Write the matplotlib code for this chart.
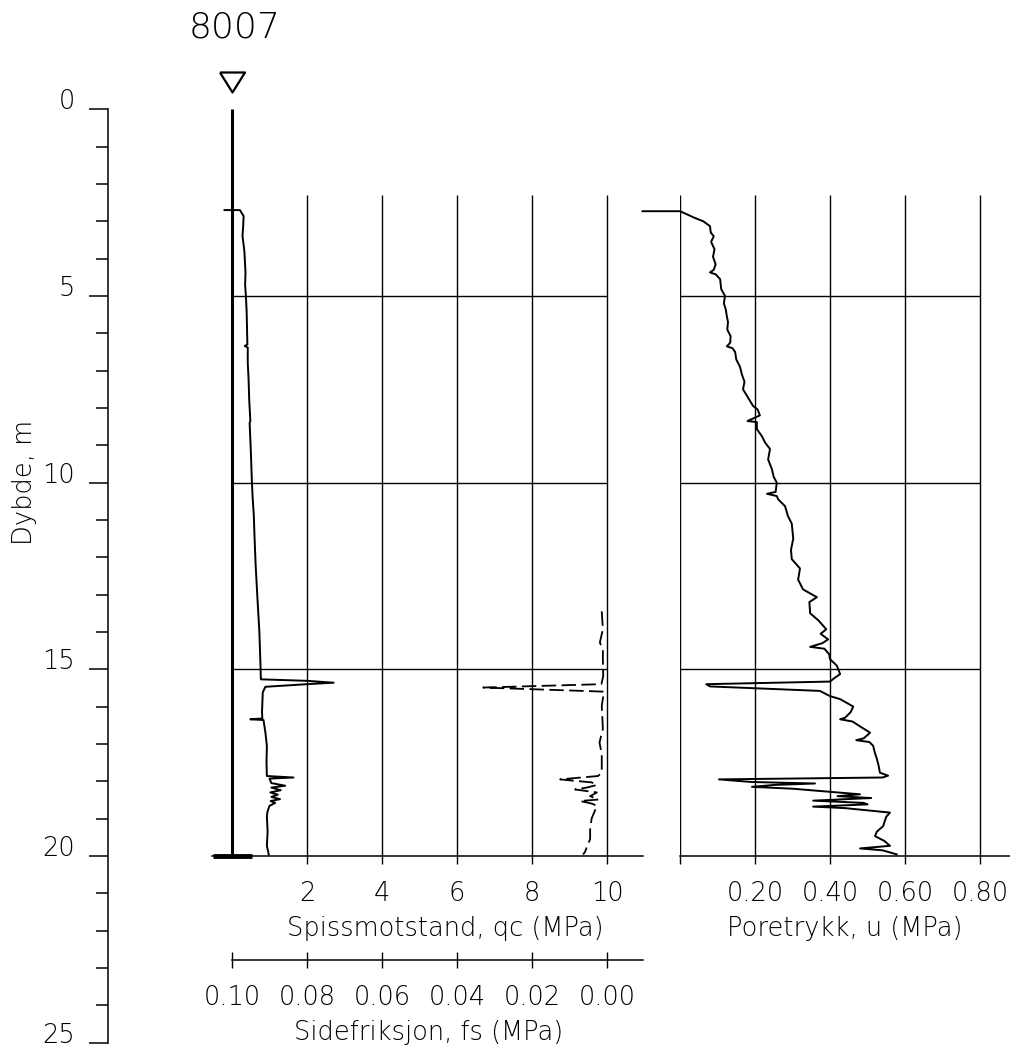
import matplotlib
matplotlib.use("Agg")
import matplotlib.pyplot as plt
from matplotlib.ticker import FixedLocator, MultipleLocator

plt.rcParams['font.family'] = ['DejaVu Sans']
plt.rcParams['font.size'] = 18.5
plt.rcParams['font.weight'] = 'light'
plt.rcParams['axes.labelweight'] = 'light'

W, H = 1010, 1049
DPI = 100

# depth scale: pixel row of 0 m and pixels per metre
Y0 = 109.3
PX_PER_M = 37.33

HOLE = "8007"
GRID_TOP = 2.3
BOTTOM = 20.0

# cone resistance qc (MPa) against depth (m)
qc_depth = [2.70, 2.70, 2.86, 3.10, 3.39, 3.80, 4.37, 4.70, 5.00, 5.40, 5.84,
            6.30, 6.34, 6.38, 6.80, 7.18, 7.80, 8.35, 8.40, 9.10, 9.96, 10.40,
            10.85, 11.43, 12.20, 13.13, 14.00, 14.91, 15.27, 15.31, 15.36,
            15.40, 15.47, 15.62, 15.90, 16.15, 16.32, 16.34, 16.36, 16.69,
            17.05, 17.50, 17.86, 17.90, 17.93, 18.05, 18.12, 18.17, 18.24,
            18.30, 18.36, 18.42, 18.48, 18.53, 18.58, 18.66, 18.80, 18.93,
            19.35, 19.73, 19.96]
qc = [-0.20, 0.21, 0.31, 0.30, 0.28, 0.33, 0.36, 0.35, 0.37, 0.39, 0.40,
      0.41, 0.34, 0.42, 0.42, 0.44, 0.46, 0.49, 0.47, 0.50, 0.53, 0.55,
      0.58, 0.60, 0.63, 0.68, 0.73, 0.76, 0.77, 2.00, 2.71,
      2.00, 0.89, 0.82, 0.81, 0.80, 0.81, 0.49, 0.84, 0.89,
      0.93, 0.92, 0.93, 1.64, 1.00, 1.05, 1.42, 1.05, 1.30,
      1.02, 1.22, 1.05, 1.28, 1.03, 1.15, 1.00, 0.95, 0.93,
      0.95, 0.93, 0.98]

# sleeve friction fs (MPa) against depth (m)
fs_depth = [13.45, 13.93, 14.28, 14.50, 14.73, 15.18, 15.40, 15.49, 15.60,
            15.98, 16.60, 16.96, 17.28, 17.77, 17.86, 17.95, 17.99, 18.03,
            18.10, 18.17, 18.22, 18.30, 18.40, 18.49, 18.53, 18.60, 18.66,
            19.00, 19.29, 19.55, 19.90, 19.96]
fs = [0.0014, 0.0011, 0.0019, 0.0011, 0.0011, 0.0010, 0.0015, 0.0330, 0.0008,
      0.0014, 0.0011, 0.0020, 0.0014, 0.0014, 0.0024, 0.0125, 0.0085, 0.0041,
      0.0027, 0.0054, 0.0085, 0.0027, 0.0045, 0.0023, 0.0072, 0.0040, 0.0027,
      0.0041, 0.0045, 0.0045, 0.0059, 0.0064]

# pore pressure u (MPa) against depth (m)
u_depth = [2.73, 2.73, 2.82, 2.89, 3.00, 3.13, 3.30, 3.40, 3.55, 3.75, 3.95,
           4.15, 4.30, 4.37, 4.42, 4.55, 4.82, 5.00, 5.20, 5.36, 5.55, 5.70,
           5.90, 6.08, 6.25, 6.35, 6.40, 6.50, 6.70, 6.90, 7.10, 7.30, 7.50,
           7.70, 7.95, 8.04, 8.20, 8.35, 8.38, 8.57, 8.75, 8.93, 9.10, 9.38,
           9.64, 9.85, 10.00, 10.25, 10.30, 10.36, 10.45, 10.63, 10.90, 11.10,
           11.50, 11.80, 12.05, 12.30, 12.60, 12.86, 13.07, 13.20, 13.50,
           13.70, 13.93, 14.05, 14.20, 14.30, 14.40, 14.45, 14.60, 14.73,
           14.90, 15.13, 15.25, 15.33, 15.40, 15.46, 15.58, 15.72, 15.80,
           16.00, 16.15, 16.30, 16.34, 16.40, 16.53, 16.70, 16.85, 16.90,
           16.95, 17.05, 17.25, 17.40, 17.60, 17.77, 17.85, 17.90, 17.95,
           18.02, 18.06, 18.10, 18.15, 18.20, 18.30, 18.35, 18.40, 18.45,
           18.52, 18.58, 18.62, 18.68, 18.72, 18.84, 18.95, 19.10, 19.20,
           19.35, 19.47, 19.60, 19.73, 19.80, 19.85, 19.96]
u = [-0.100, 0.000, 0.020, 0.035, 0.062, 0.080, 0.082, 0.090, 0.083, 0.092, 0.088,
     0.095, 0.090, 0.080, 0.095, 0.107, 0.110, 0.120, 0.117, 0.122, 0.125, 0.128,
     0.126, 0.135, 0.134, 0.125, 0.140, 0.147, 0.150, 0.160, 0.165, 0.172, 0.168,
     0.180, 0.195, 0.207, 0.213, 0.180, 0.205, 0.205, 0.218, 0.227, 0.240, 0.235,
     0.245, 0.250, 0.258, 0.255, 0.232, 0.258, 0.262, 0.280, 0.288, 0.298,
     0.302, 0.296, 0.298, 0.320, 0.315, 0.328, 0.365, 0.345, 0.347,
     0.370, 0.390, 0.375, 0.395, 0.380, 0.347, 0.385, 0.398, 0.400,
     0.418, 0.427, 0.410, 0.400, 0.070, 0.080, 0.373, 0.400, 0.427,
     0.462, 0.455, 0.440, 0.427, 0.460, 0.480, 0.507, 0.490, 0.470,
     0.505, 0.515, 0.520, 0.525, 0.530, 0.533, 0.555, 0.540, 0.104,
     0.190, 0.360, 0.250, 0.192, 0.300, 0.420, 0.480, 0.420, 0.510,
     0.355, 0.490, 0.500, 0.355, 0.440, 0.560, 0.550, 0.545, 0.542,
     0.525, 0.520, 0.545, 0.560, 0.480, 0.540, 0.578]

depth_ticks = [0, 5, 10, 15, 20, 25]
qc_ticks = [2, 4, 6, 8, 10]
fs_ticks = [0.10, 0.08, 0.06, 0.04, 0.02, 0.00]
u_ticks = [0.0, 0.2, 0.4, 0.6, 0.8]
u_labels = ["", "0.20", "0.40", "0.60", "0.80"]


def depth_px(d):
    return Y0 + PX_PER_M * d


def add_px_axes(fig, x0, x1, y_top, y_bot):
    return fig.add_axes([x0 / W, 1 - y_bot / H, (x1 - x0) / W, (y_bot - y_top) / H])


def bare(ax, keep=("bottom",)):
    for name, spine in ax.spines.items():
        spine.set_visible(name in keep)
        spine.set_linewidth(1.1)
    ax.set_facecolor("none")
    ax.tick_params(left=False, labelleft=False)


fig = plt.figure(figsize=(W / DPI, H / DPI), dpi=DPI)

# depth scale on the far left, labels sitting on top of their ticks
d_x0, d_x1 = 108, 150
ax_d = add_px_axes(fig, d_x0, d_x1, depth_px(0), depth_px(25))
bare(ax_d, keep=("left",))
ax_d.set_ylim(25, 0)
ax_d.set_xticks([])
ax_d.yaxis.set_major_locator(FixedLocator(depth_ticks))
ax_d.yaxis.set_minor_locator(MultipleLocator(1))
ax_d.tick_params(axis="y", which="major", left=True, labelleft=True,
                 length=13.7, width=1.1, pad=10)
ax_d.tick_params(axis="y", which="minor", left=True, length=8.6, width=1.1)
for lab in ax_d.get_yticklabels():
    lab.set_va("baseline")
ax_d.set_ylabel("Dybde, m")
ax_d.yaxis.set_label_coords((37 - d_x0) / (d_x1 - d_x0), 1 - 10 / 25)

# cone resistance / sleeve friction panel
qc_x0, qc_x1 = 212, 643
ax_q = add_px_axes(fig, qc_x0, qc_x1, depth_px(0), depth_px(BOTTOM))
bare(ax_q)
ax_q.set_xlim((qc_x0 - 232) / 37.5, (qc_x1 - 232) / 37.5)
ax_q.set_ylim(BOTTOM, 0)
ax_q.set_xticks(qc_ticks)
ax_q.set_xticklabels([str(t) for t in qc_ticks])
ax_q.tick_params(axis="x", length=5.8, width=1.0, pad=12)
ax_q.set_xlabel("Spissmotstand, qc (MPa)")
ax_q.xaxis.set_label_coords((445 - qc_x0) / (qc_x1 - qc_x0), -0.08)

ax_q.vlines(qc_ticks, GRID_TOP, BOTTOM, color="black", lw=1.0)
ax_q.hlines([5, 10, 15], 0, 10, color="black", lw=1.0)
ax_q.vlines(0, 0, BOTTOM, color="black", lw=2.2)
ax_q.hlines(BOTTOM, -0.5, 0.53, color="black", lw=3.5, clip_on=False)
ax_q.plot(qc, qc_depth, color="black", lw=1.4, clip_on=False)
# sleeve friction drawn on a reversed scale: 0.00 at qc = 10, 0.10 at qc = 0
ax_q.plot([10 - f * 100 for f in fs], fs_depth, color="black", lw=1.3,
          linestyle=(0, (8, 3)), clip_on=False)
ax_q.plot([0], [-0.72], marker=[(-1, 0.8), (1, 0.8), (0, -0.8), (-1, 0.8)],
          markersize=18, markerfacecolor="white", markeredgecolor="black",
          markeredgewidth=1.6, clip_on=False)
ax_q.text(0.07, -2.18, HOLE, fontsize=26, ha="center", va="center")

# separate scale line for sleeve friction
fs_x0, fs_x1 = 232, 643
ax_f = add_px_axes(fig, fs_x0, fs_x1, 959, 960)
bare(ax_f)
ax_f.set_xlim(0.10, 0.10 - (fs_x1 - fs_x0) / 3750)
ax_f.set_yticks([])
ax_f.set_xticks(fs_ticks)
ax_f.set_xticklabels(["%.2f" % t for t in fs_ticks])
ax_f.tick_params(axis="x", direction="inout", length=11.5, width=1.0, pad=12)
ax_f.set_xlabel("Sidefriksjon, fs (MPa)")
ax_f.xaxis.set_label_coords((429 - fs_x0) / (fs_x1 - fs_x0), -60)

# pore pressure panel
u_x0, u_x1 = 680, 1010
ax_u = add_px_axes(fig, u_x0, u_x1, depth_px(0), depth_px(BOTTOM))
bare(ax_u)
ax_u.set_xlim(0, (u_x1 - u_x0) / 375)
ax_u.set_ylim(BOTTOM, 0)
ax_u.set_xticks(u_ticks)
ax_u.set_xticklabels(u_labels)
ax_u.tick_params(axis="x", length=5.8, width=1.0, pad=12)
ax_u.set_xlabel("Poretrykk, u (MPa)")
ax_u.xaxis.set_label_coords((845 - u_x0) / (u_x1 - u_x0), -0.08)

ax_u.vlines(u_ticks, GRID_TOP, BOTTOM, color="black", lw=1.0)
ax_u.hlines([5, 10, 15], 0, 0.8, color="black", lw=1.0)
ax_u.plot(u, u_depth, color="black", lw=1.4, clip_on=False)

fig.savefig("out.png", dpi=DPI)
